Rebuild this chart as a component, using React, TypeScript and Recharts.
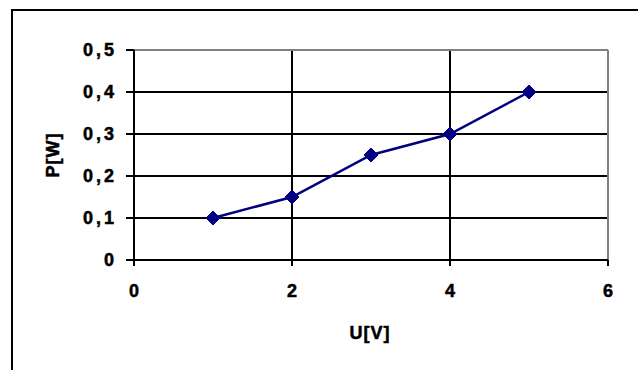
import React from "react";
import {
  LineChart,
  Line,
  XAxis,
  YAxis,
  CartesianGrid,
  ReferenceLine,
} from "recharts";

// Measured values: voltage U[V] vs power P[W]
const voltage = [1, 2, 3, 4, 5];
const power = [0.1, 0.15, 0.25, 0.3, 0.4];
const xTicks = [0, 2, 4, 6];
const yTicks = [0, 0.1, 0.2, 0.3, 0.4, 0.5];

const data = voltage.map((u, i) => ({ u, p: power[i] }));

const FONT = "Arial, 'Liberation Sans', sans-serif";
const textStyle = {
  fontFamily: FONT,
  fontWeight: 700,
  fontSize: "18px",
  fill: "#000",
  stroke: "#000",
  strokeWidth: 0.5,
};

const fmt = (v: number) => String(v).replace(".", ",");

// y tick labels, right aligned next to the tick mark
const YTick = (props: any) => {
  const { x, y, payload } = props;
  return (
    <text
      x={x + 3}
      y={y}
      textAnchor="end"
      dominantBaseline="central"
      style={{ ...textStyle, letterSpacing: "3px" }}
    >
      {fmt(payload.value)}
    </text>
  );
};

const XTick = (props: any) => {
  const { x, y, payload } = props;
  return (
    <text
      x={x}
      y={y}
      textAnchor="middle"
      dominantBaseline="central"
      style={textStyle}
    >
      {payload.value}
    </text>
  );
};

// diamond marker like the spreadsheet default
const Diamond = (props: any) => {
  const { cx, cy } = props;
  if (cx == null || cy == null) return null;
  const r = 7;
  return (
    <polygon
      points={`${cx},${cy - r} ${cx + r},${cy} ${cx},${cy + r} ${cx - r},${cy}`}
      fill="#000080"
      stroke="#000080"
    />
  );
};

const App = () => {
  return (
    <div
      style={{
        position: "absolute",
        left: 0,
        top: 0,
        width: 638,
        height: 370,
        overflow: "hidden",
        background: "#fff",
      }}
    >
      {/* outer chart frame, runs off the right and bottom edge */}
      <div
        style={{
          position: "absolute",
          left: 11,
          top: 9,
          width: 700,
          height: 420,
          border: "2px solid #000",
        }}
      />
      <div style={{ position: "absolute", left: 0, top: 0 }}>
        <LineChart
          width={638}
          height={370}
          data={data}
          margin={{ top: 50, right: 30, left: 0, bottom: 70 }}
        >
          <CartesianGrid stroke="#000" strokeWidth={2} />
          <XAxis
            dataKey="u"
            type="number"
            domain={[0, 6]}
            ticks={xTicks}
            height={40}
            axisLine={{ stroke: "#000", strokeWidth: 2 }}
            tickLine={{ stroke: "#000", strokeWidth: 2 }}
            tickSize={6}
            tickMargin={25}
            tick={<XTick />}
            label={() => (
              <text
                x={370}
                y={333}
                textAnchor="middle"
                dominantBaseline="central"
                style={{ ...textStyle, letterSpacing: "1px" }}
              >
                U[V]
              </text>
            )}
          />
          <YAxis
            type="number"
            domain={[0, 0.5]}
            ticks={yTicks}
            width={134}
            axisLine={{ stroke: "#000", strokeWidth: 2 }}
            tickLine={{ stroke: "#000", strokeWidth: 2 }}
            tickSize={8}
            tickMargin={12}
            tick={<YTick />}
            label={() => (
              <text
                x={53}
                y={155}
                textAnchor="middle"
                dominantBaseline="central"
                transform="rotate(-90 53 155)"
                style={{ ...textStyle, letterSpacing: "1px" }}
              >
                P[W]
              </text>
            )}
          />
          <ReferenceLine y={0.5} stroke="#808080" strokeWidth={2} />
          <ReferenceLine x={6} stroke="#808080" strokeWidth={2} />
          <Line
            dataKey="p"
            stroke="#000080"
            strokeWidth={2.5}
            dot={<Diamond />}
            activeDot={false}
            isAnimationActive={false}
          />
        </LineChart>
      </div>
    </div>
  );
};

export default App;
